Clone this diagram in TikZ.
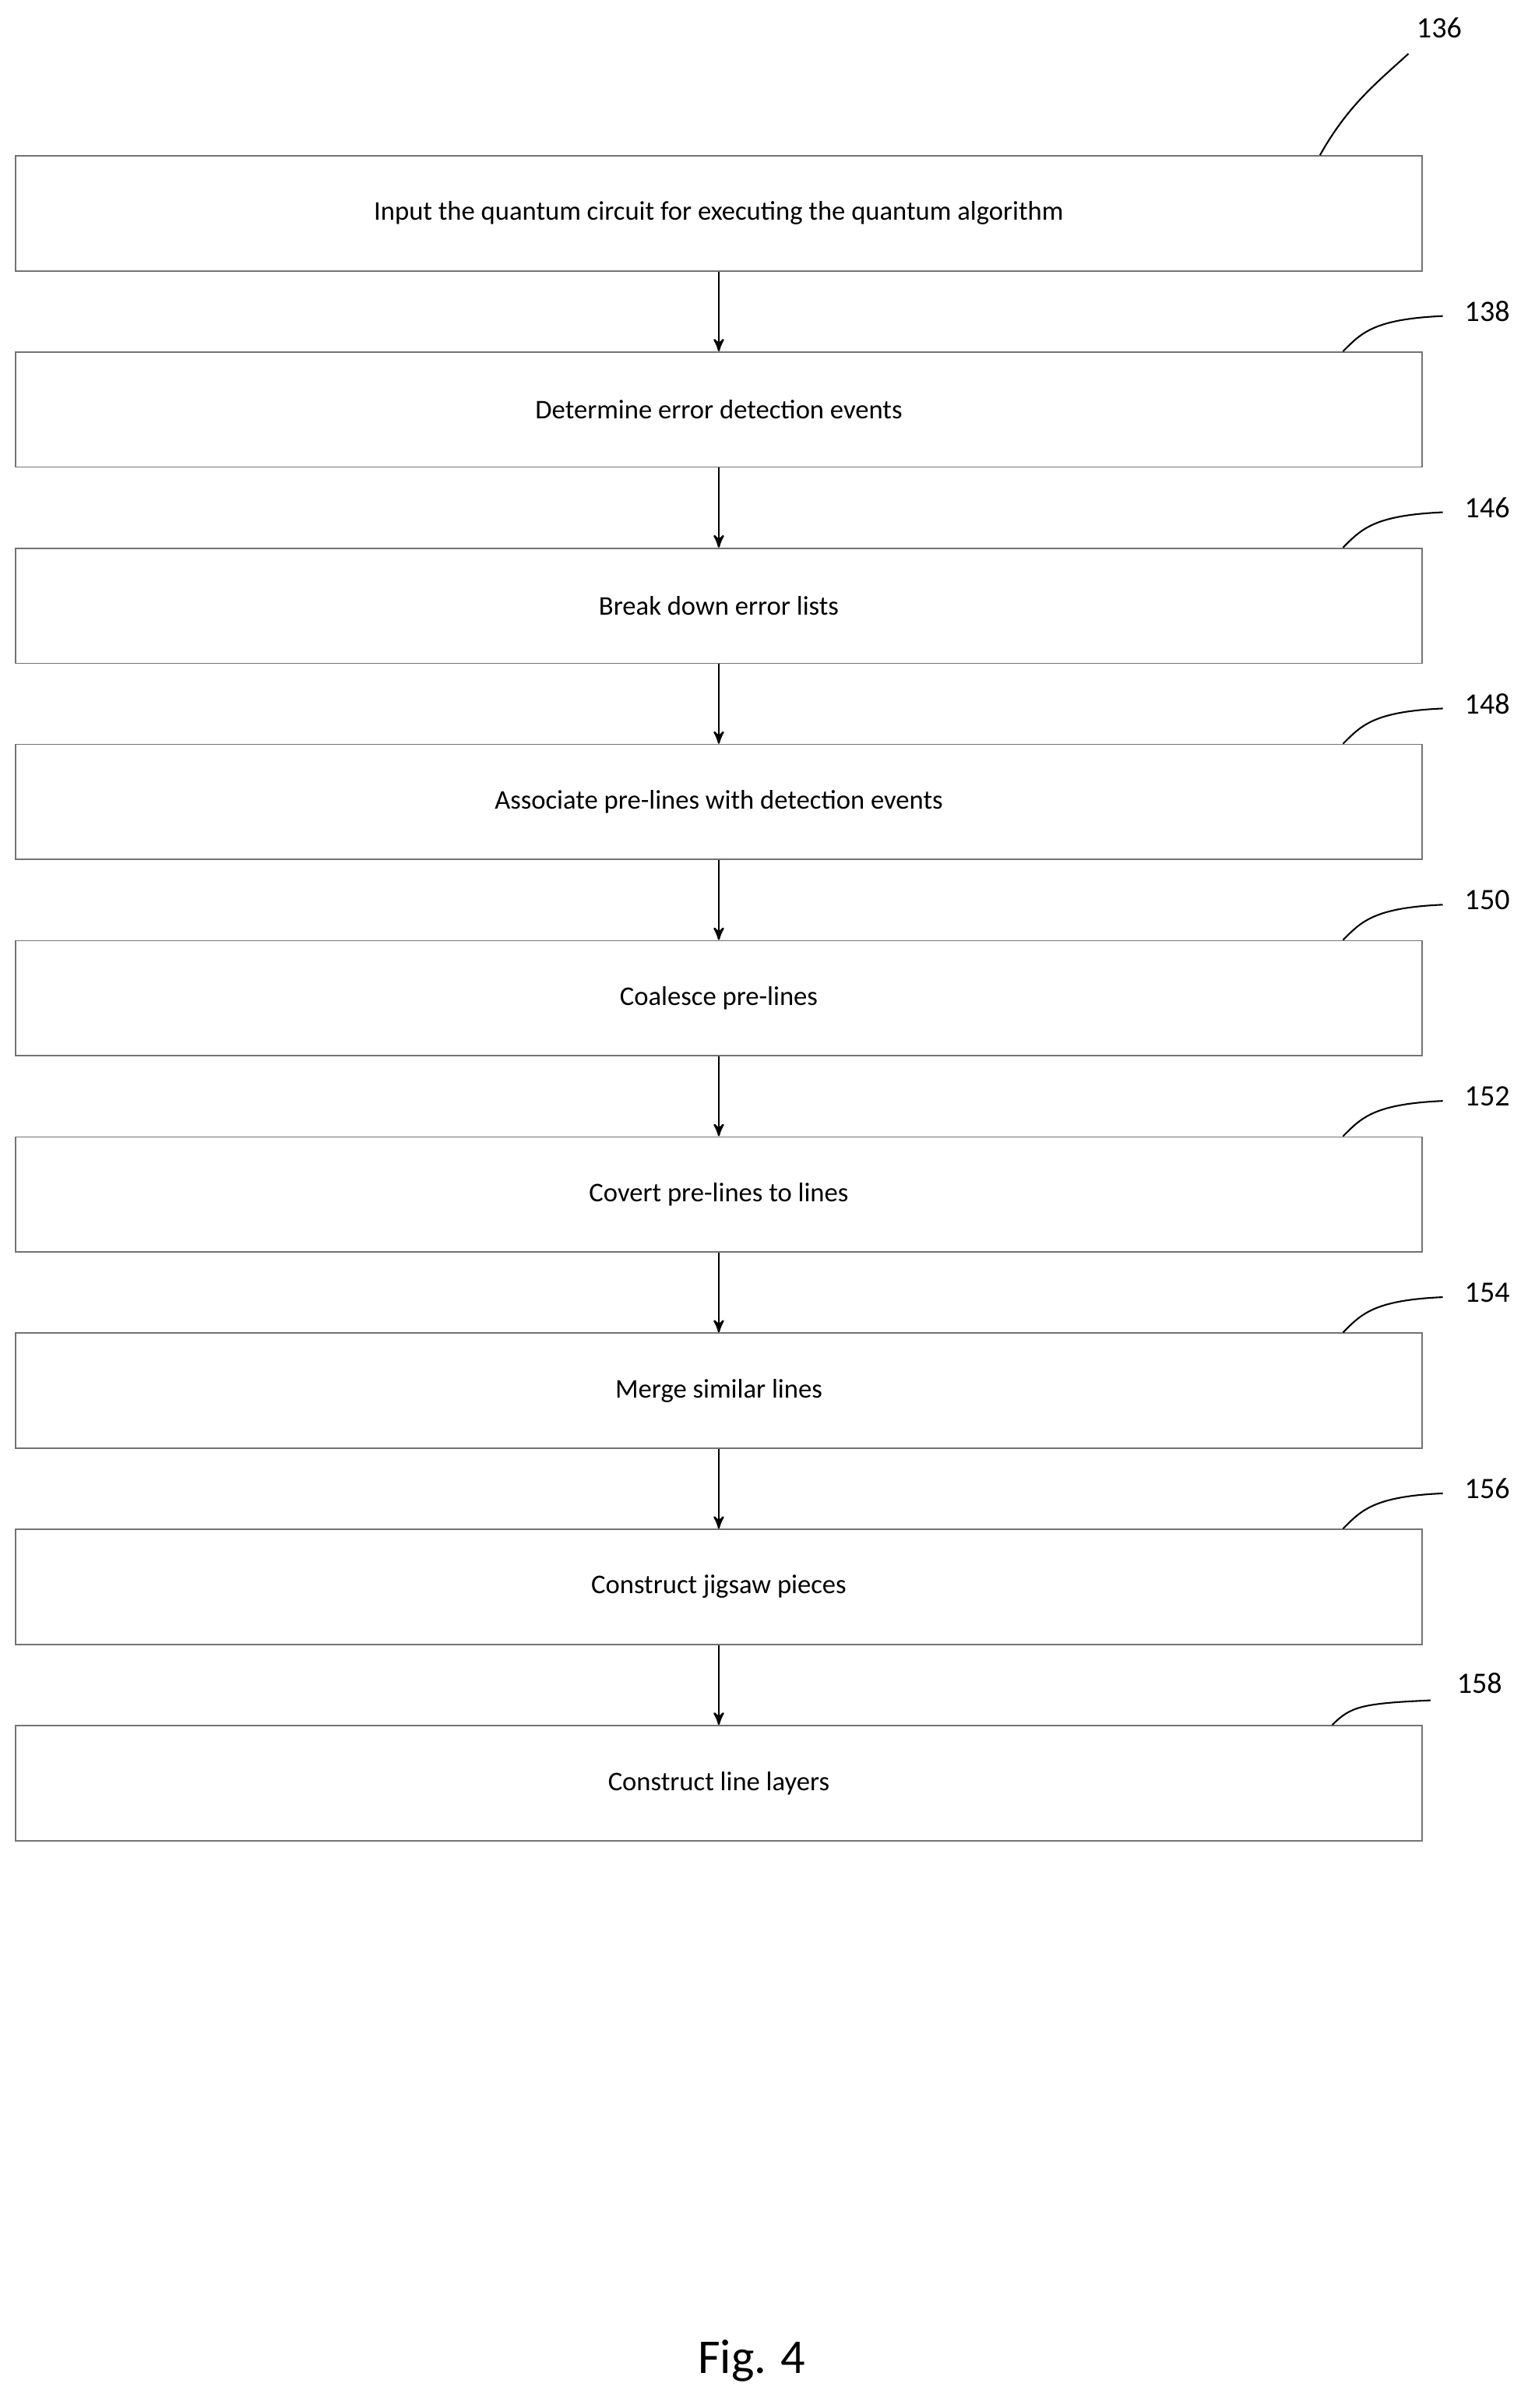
\documentclass[tikz,border=0pt]{standalone}
\usepackage{fontspec}
\setmainfont{Carlito}
\usetikzlibrary{arrows, positioning, calc}

\begin{document}
\begin{tikzpicture}[x=0.02cm, y=-0.02cm, ->, >=stealth', node distance=1.04cm,
  every node/.style = {font=\fontsize{10}{12}\selectfont},
  stage/.style = {shape=rectangle, draw=black!55, line width=0.5pt, minimum width=18.34cm, minimum height=1.5cm, inner sep=0pt},
  tag/.style = {-, line width=0.6pt}]
  \useasboundingbox (0,0) rectangle (1000,1569);
  \node[stage] (input) at (468.5,139) {Input the quantum circuit for executing the quantum algorithm};
  \node[stage, below=of input] (detect) {Determine error detection events};
  \node[stage, below=of detect] (brk) {Break down error lists};
  \node[stage, below=of brk] (assoc) {Associate pre-lines with detection events};
  \node[stage, below=of assoc] (coal) {Coalesce pre-lines};
  \node[stage, below=of coal] (conv) {Covert pre-lines to lines};
  \node[stage, below=of conv] (merge) {Merge similar lines};
  \node[stage, below=of merge] (jig) {Construct jigsaw pieces};
  \node[stage, below=of jig] (layers) {Construct line layers};
  % arrows between stages
  \foreach \a/\b in {input/detect, detect/brk, brk/assoc, assoc/coal, coal/conv, conv/merge, merge/jig, jig/layers}
    \draw[line width=0.7pt] (\a) -- (\b);
  % reference numerals
  \node (n136) at (938,18) {\fontsize{11}{13}\selectfont 136};
  \coordinate (e136) at (918,35);
  \draw[tag] ($(input.north east)+(-67,0)$) .. controls +(18,-32) and +(-22,20) .. (e136);
  \foreach \blk/\num in {detect/138, brk/146, assoc/148, coal/150, conv/152, merge/154, jig/156}{
    \node (n\num) at ($(\blk.north east)+(42,-26)$) {\fontsize{11}{13}\selectfont \num};
    \draw[tag] ($(\blk.north east)+(-52,0)$) .. controls +(12,-12) and +(-45,2) .. ($(\blk.north east)+(13,-23)$);
  }
  \node (n158) at ($(layers.north east)+(37,-27)$) {\fontsize{11}{13}\selectfont 158};
  \draw[tag] ($(layers.north east)+(-59,0)$) .. controls +(12,-12) and +(-45,2) .. ($(layers.north east)+(5,-16)$);
  \node (fig) at (490,1538) {\fontsize{18}{22}\selectfont Fig. 4};
\end{tikzpicture}
\end{document}
